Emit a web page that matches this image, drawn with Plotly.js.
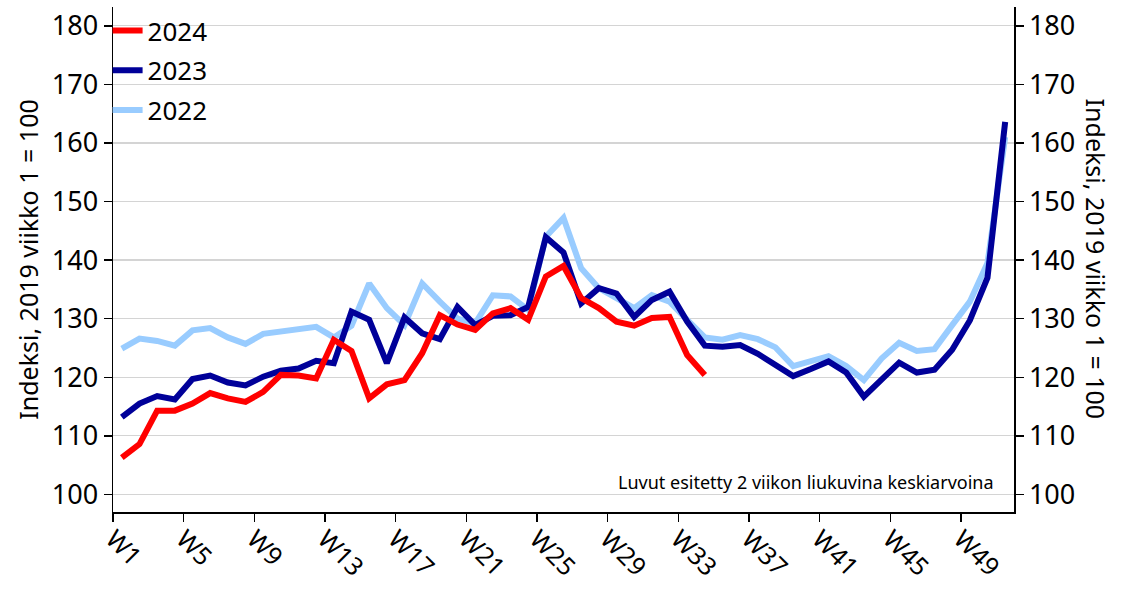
<!DOCTYPE html>
<html>
<head>
<meta charset="utf-8">
<script src="https://cdn.plot.ly/plotly-3.0.1.min.js"></script>
<style>
html,body{margin:0;padding:0;background:#fff;}
#chart{width:1133px;height:589px;}
</style>
</head>
<body>
<div id="chart"></div>
<script>
// Week numbers 1..51
const weeks = [1,2,3,4,5,6,7,8,9,10,11,12,13,14,15,16,17,18,19,20,21,22,23,24,25,26,27,28,29,30,31,32,33,34,35,36,37,38,39,40,41,42,43,44,45,46,47,48,49,50,51];

const values2022 = [124.9,126.6,126.2,125.4,128.0,128.4,126.8,125.7,127.4,127.8,128.3,128.6,126.8,128.8,136.0,131.8,128.9,136.0,132.9,130.0,129.2,134.0,133.8,131.5,144.0,147.2,138.6,135.2,133.5,131.8,134.0,132.9,129.8,126.8,126.4,127.2,126.5,125.1,121.9,122.8,123.6,121.9,119.5,123.2,125.9,124.5,124.8,128.9,132.9,139.5,161.0];

const values2023 = [113.2,115.5,116.8,116.2,119.7,120.3,119.1,118.6,120.1,121.1,121.5,122.8,122.4,131.2,129.8,122.4,130.2,127.5,126.5,132.0,128.9,130.5,130.6,132.0,143.9,141.3,132.6,135.2,134.3,130.3,133.2,134.6,129.5,125.4,125.2,125.5,124.0,122.1,120.2,121.4,122.7,120.8,116.7,119.6,122.5,120.8,121.3,124.7,129.7,137.0,163.6];

const values2024 = [106.3,108.6,114.3,114.3,115.5,117.3,116.4,115.8,117.5,120.4,120.3,119.8,126.4,124.5,116.4,118.8,119.5,124.1,130.6,129.0,128.1,130.9,131.8,129.8,137.2,139.0,133.5,131.8,129.5,128.8,130.1,130.3,123.8,120.4];

const seriesNames = ["2022","2023","2024"];
const tickWeeks = [1,5,9,13,17,21,25,29,33,37,41,45,49];
const tickLabels = ["W1","W5","W9","W13","W17","W21","W25","W29","W33","W37","W41","W45","W49"];
const yTicks = [100,110,120,130,140,150,160,170,180];
const yTitle = "Indeksi, 2019 viikko 1 = 100";
const noteText = "Luvut esitetty 2 viikon liukuvina keskiarvoina";

const FONT = "'Noto Sans', 'Open Sans', 'DejaVu Sans', sans-serif";
const yRange = [97, 183.2];

const traces = [
  {x: weeks.slice(0, values2022.length), y: values2022, name: seriesNames[0], type: 'scatter', mode: 'lines',
   line: {color: '#99ccff', width: 6}, legendgroup: 'g22', legendrank: 3},
  {x: weeks.slice(0, values2023.length), y: values2023, name: seriesNames[1], type: 'scatter', mode: 'lines',
   line: {color: '#000099', width: 6}, legendgroup: 'g23', legendrank: 2},
  // 2024 drawn against the right-hand axis (same scale) so both axes are rendered
  {x: weeks.slice(0, values2024.length), y: values2024, name: seriesNames[2], type: 'scatter', mode: 'lines',
   yaxis: 'y2', line: {color: '#ff0000', width: 6}, legendgroup: 'g24', legendrank: 1}
];

const layout = {
  width: 1133, height: 589,
  margin: {l: 113, r: 119, t: 7, b: 77, pad: 0},
  paper_bgcolor: '#fff', plot_bgcolor: '#fff',
  font: {family: FONT, size: 26, color: '#000'},
  showlegend: true,
  legend: {x: -0.006, y: 1.0, xanchor: 'left', yanchor: 'top', bgcolor: 'rgba(0,0,0,0)',
           traceorder: 'grouped', tracegroupgap: 3, font: {size: 26}},
  xaxis: {
    range: [0.5, 51.5], tickmode: 'array',
    tickvals: tickWeeks.map(w => w - 0.5), ticktext: tickLabels,
    tickangle: 45, ticks: 'outside', ticklen: 8, tickwidth: 1.5, tickcolor: '#000',
    ticklabelstandoff: -7,
    showline: true, linecolor: '#000', linewidth: 1.5, showgrid: false, zeroline: false,
    tickfont: {size: 25}, fixedrange: true
  },
  yaxis: {
    range: yRange, tickmode: 'array', tickvals: yTicks,
    ticks: 'outside', ticklen: 8, tickwidth: 1.5, tickcolor: '#000',
    showline: true, linecolor: '#000', linewidth: 1.5,
    showgrid: true, gridcolor: '#d4d4d4', gridwidth: 1.2, zeroline: false,
    tickfont: {size: 27},
    title: {text: yTitle, font: {size: 25}, standoff: 6}
  },
  yaxis2: {
    range: yRange, overlaying: 'y', side: 'right', anchor: 'x', tickmode: 'array', tickvals: yTicks,
    ticks: 'outside', ticklen: 8, tickwidth: 1.5, tickcolor: '#000',
    showline: true, linecolor: '#000', linewidth: 1.5, showgrid: false, zeroline: false,
    tickfont: {size: 27}
  },
  annotations: [
    {text: yTitle, xref: 'paper', yref: 'paper', x: 1.092, y: 0.5, textangle: 90,
     showarrow: false, font: {size: 25}, xanchor: 'center', yanchor: 'middle'},
    {text: noteText, xref: 'paper', yref: 'paper', x: 0.98, y: 0.06, xanchor: 'right', yanchor: 'middle',
     showarrow: false, font: {size: 18}}
  ]
};

Plotly.newPlot('chart', traces, layout, {displayModeBar: false, staticPlot: true});
</script>
</body>
</html>
